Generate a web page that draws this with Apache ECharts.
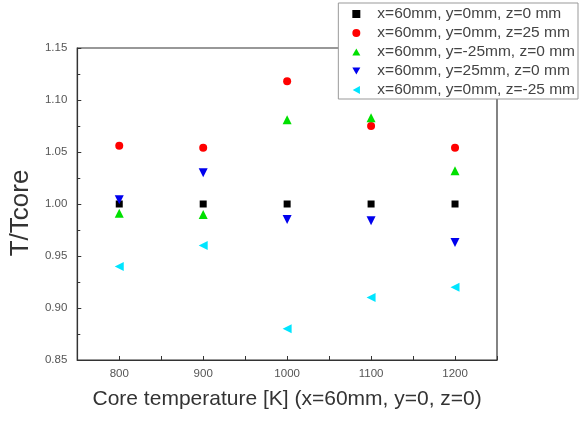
<!DOCTYPE html>
<html>
<head>
<meta charset="utf-8">
<script src="https://cdn.jsdelivr.net/npm/echarts@6/dist/echarts.min.js"></script>
<style>
  html, body { margin: 0; padding: 0; background: #fff; }
  #chart { width: 587px; height: 421px; }
</style>
</head>
<body>
<div id="chart"></div>
<script>
// core temperatures [K]
const coreTemps = [800, 900, 1000, 1100, 1200]

// T/Tcore ratios
const z0 = [1.000, 1.000, 1.000, 1.000, 1.000]
const z25 = [1.056, 1.054, 1.118, 1.075, 1.054]
const yMinus25 = [0.991, 0.990, 1.081, 1.083, 1.032]
const y25 = [1.004, 1.030, 0.985, 0.984, 0.963]
const zMinus25 = [0.940, 0.960, 0.880, 0.910, 0.920]

const seriesNames = [
  'x=60mm, y=0mm, z=0 mm',
  'x=60mm, y=0mm, z=25 mm',
  'x=60mm, y=-25mm, z=0 mm',
  'x=60mm, y=25mm, z=0 mm',
  'x=60mm, y=0mm, z=-25 mm',
]

const yTicks = [0.85, 0.9, 0.95, 1.0, 1.05, 1.1, 1.15]

// marker shapes (so the legend shows the same rotation)
const triUp = 'path://M5,0L10,9L0,9Z'
const triDown = 'path://M0,0L10,0L5,9Z'
const triLeft = 'path://M9,0L9,10L0,5Z'

const pairs = (vals) => coreTemps.map((t, i) => [t, vals[i]])

const chart = echarts.init(document.getElementById('chart'))

const mk = (name, vals, symbol, color, size) => ({
  name,
  type: 'scatter',
  data: pairs(vals),
  symbol,
  symbolSize: size,
  itemStyle: { color, opacity: 1 },
  z: 3,
})

chart.setOption({
  animation: false,
  backgroundColor: '#fff',
  textStyle: { fontFamily: 'Liberation Sans, Arial, sans-serif' },
  grid: {
    left: 73, right: 90, top: 48, bottom: 61,
    show: true, borderColor: '#333', borderWidth: 1.2,
  },
  legend: {
    orient: 'vertical',
    right: 9,
    top: 3,
    data: seriesNames,
    backgroundColor: '#fff',
    borderColor: '#999',
    borderWidth: 1,
    padding: [3, 3, 1, 14],
    itemGap: 3,
    itemWidth: 8,
    itemHeight: 8,
    textStyle: { color: '#444', fontSize: 15.5, padding: [0, 0, 0, 12] },
    z: 10,
  },
  xAxis: {
    type: 'value',
    min: 750,
    max: 1250,
    interval: 50,
    name: 'Core temperature [K] (x=60mm, y=0, z=0)',
    nameLocation: 'middle',
    nameGap: 29,
    nameTextStyle: { fontSize: 21, color: '#333' },
    axisLine: { show: true, lineStyle: { color: '#333', width: 1.2 } },
    axisTick: { inside: true, length: 4, lineStyle: { color: '#333' } },
    axisLabel: {
      color: '#555', fontSize: 11.5, margin: 8,
      formatter: (v) => (v % 100 === 0 && v > 750 && v < 1250 ? String(v) : ''),
    },
    splitLine: { show: false },
  },
  yAxis: {
    type: 'value',
    min: yTicks[0],
    max: yTicks[yTicks.length - 1],
    interval: 0.05,
    name: 'T/Tcore',
    nameLocation: 'middle',
    nameGap: 42,
    nameTextStyle: { fontSize: 26, color: '#333', padding: [0, 18, 0, 0] },
    axisLine: { show: true, lineStyle: { color: '#333', width: 1.2 } },
    axisTick: { inside: true, length: 4, lineStyle: { color: '#333' } },
    minorTick: { show: true, splitNumber: 2, length: 3, lineStyle: { color: '#333' } },
    axisLabel: {
      color: '#555', fontSize: 11.5, margin: 10,
      formatter: (v) => v.toFixed(2),
    },
    splitLine: { show: false },
  },
  series: [
    mk(seriesNames[0], z0, 'rect', '#000000', 7),
    mk(seriesNames[1], z25, 'circle', '#ff0000', 8),
    mk(seriesNames[2], yMinus25, triUp, '#00e000', 9),
    mk(seriesNames[3], y25, triDown, '#0000ee', 9),
    mk(seriesNames[4], zMinus25, triLeft, '#00e5ff', 9),
  ],
})
</script>
</body>
</html>
